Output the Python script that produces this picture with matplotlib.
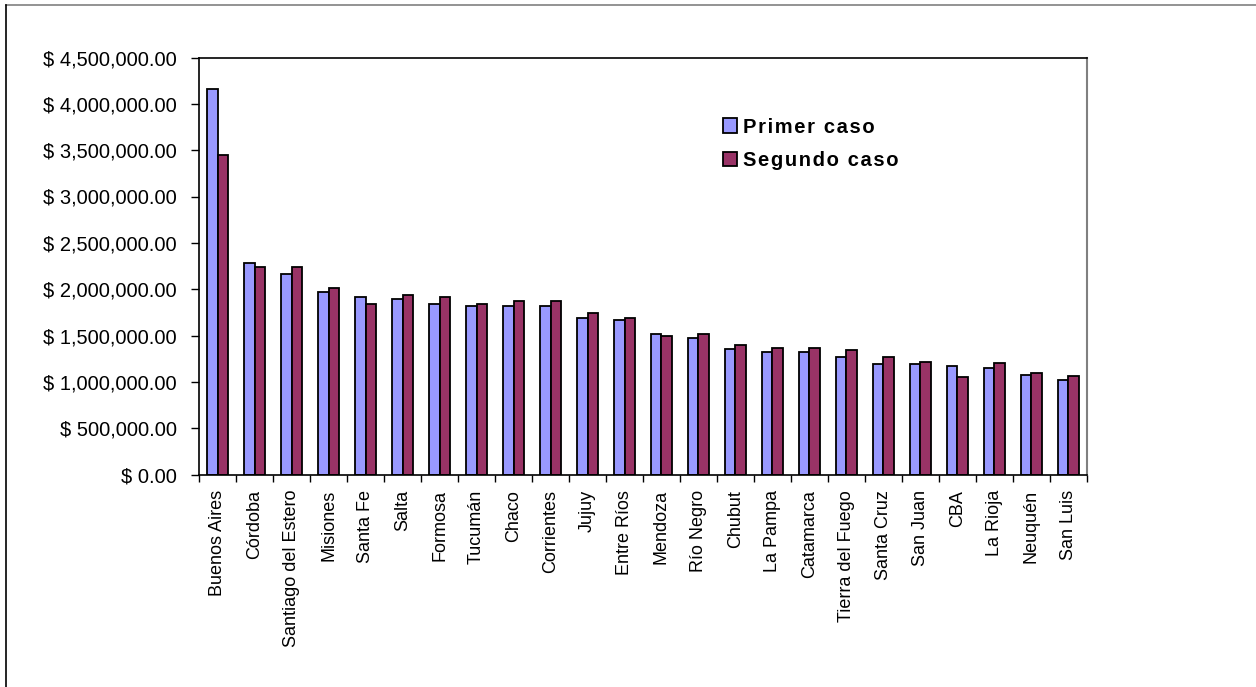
import matplotlib
matplotlib.use("Agg")
import matplotlib.pyplot as plt
import numpy as np
from matplotlib.patches import Patch
from matplotlib.ticker import FuncFormatter, MultipleLocator, FixedLocator
from matplotlib.lines import Line2D
from matplotlib.font_manager import FontProperties

provincias = [
    "Buenos Aires", "Córdoba", "Santiago del Estero", "Misiones", "Santa Fe",
    "Salta", "Formosa", "Tucumán", "Chaco", "Corrientes", "Jujuy", "Entre Ríos",
    "Mendoza", "Río Negro", "Chubut", "La Pampa", "Catamarca", "Tierra del Fuego",
    "Santa Cruz", "San Juan", "CBA", "La Rioja", "Neuquén", "San Luis",
]

primer_caso = [
    4155000, 2284000, 2169000, 1971000, 1917000, 1896000, 1845000, 1816000,
    1816000, 1816000, 1694000, 1669000, 1518000, 1471000, 1349000, 1324000,
    1324000, 1270000, 1195000, 1195000, 1169000, 1147000, 1072000, 1025000,
]

segundo_caso = [
    3453000, 2241000, 2241000, 2014000, 1845000, 1939000, 1917000, 1845000,
    1867000, 1867000, 1745000, 1694000, 1493000, 1518000, 1395000, 1370000,
    1370000, 1342000, 1270000, 1219000, 1047000, 1198000, 1097000, 1068000,
]

series_labels = ["Primer caso", "Segundo caso"]
series_colors = ["#9999FF", "#993366"]

plt.rcParams["font.family"] = ["Liberation Sans", "DejaVu Sans"]

fig = plt.figure(figsize=(12.56, 6.87), dpi=100)
fig.patch.set_facecolor("white")

# outer chart border (top and left edges)
fig.add_artist(Line2D([6 / 1256, 1.0], [1 - 5 / 687, 1 - 5 / 687],
                      transform=fig.transFigure, color="#808080", lw=1.2))
fig.add_artist(Line2D([6 / 1256, 6 / 1256], [0.0, 1 - 5 / 687],
                      transform=fig.transFigure, color="black", lw=1.2))

ax = fig.add_axes([199.3 / 1256, 212.5 / 687, 887.4 / 1256, 417 / 687])

x = np.arange(len(provincias))
width = 1 / 3.5
ax.bar(x - width / 2, primer_caso, width, color=series_colors[0],
       edgecolor="black", linewidth=1.3, label=series_labels[0], zorder=2)
ax.bar(x + width / 2, segundo_caso, width, color=series_colors[1],
       edgecolor="black", linewidth=1.3, label=series_labels[1], zorder=2)

ax.set_xlim(-0.5, len(provincias) - 0.5)
ax.set_ylim(0, 4500000)

ax.yaxis.set_major_locator(MultipleLocator(500000))
ax.yaxis.set_major_formatter(FuncFormatter(lambda v, p: f"$ {v:,.2f}"))
ax.tick_params(axis="y", direction="out", length=6, width=1, pad=10,
               labelsize=14.5, colors="black")

ax.set_xticks(x)
ax.set_xticklabels(provincias, rotation=90, fontsize=13)
ax.xaxis.set_minor_locator(FixedLocator(np.arange(len(provincias) + 1) - 0.5))
ax.tick_params(axis="x", which="major", length=0, pad=11)
ax.tick_params(axis="x", which="minor", direction="out", length=5, width=1)

for side in ["top", "left", "bottom"]:
    ax.spines[side].set_color("black")
    ax.spines[side].set_linewidth(1.2)
ax.spines["right"].set_color("#808080")
ax.spines["right"].set_linewidth(1.5)

# legend with letter-spaced bold labels
spaced = ["\u200a".join(list(s)) for s in series_labels]
handles = [Patch(facecolor=c, edgecolor="black", linewidth=1.3) for c in series_colors]
leg = ax.legend(handles, spaced, loc="upper left", bbox_to_anchor=(0.590, 0.856),
                frameon=False, borderpad=0, borderaxespad=0,
                handlelength=0.7, handleheight=0.7, handletextpad=0.28,
                labelspacing=0.74,
                prop=FontProperties(family=["Liberation Sans", "DejaVu Sans"],
                                    weight="bold", size=14.5))

fig.savefig("out.png", dpi=100, facecolor="white")
